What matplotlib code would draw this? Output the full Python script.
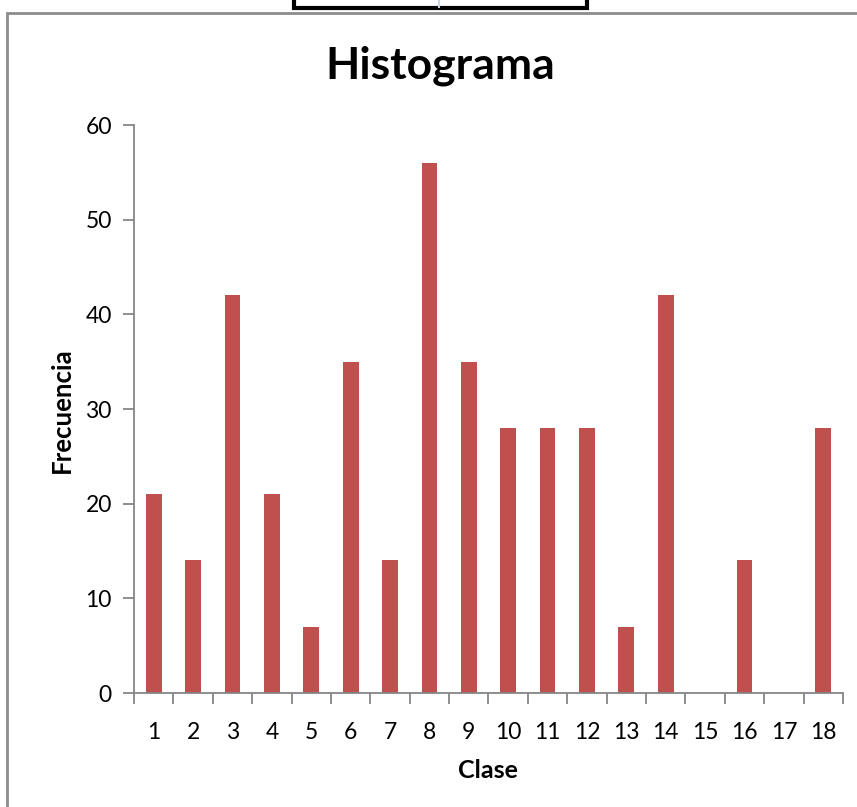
import numpy as np
import matplotlib.pyplot as plt
from matplotlib.patches import Rectangle
from matplotlib.lines import Line2D

#%% Data
clases = ['1', '2', '3', '4', '5', '6', '7', '8', '9', '10',
          '11', '12', '13', '14', '15', '16', '17', '18']
frecuencia = [21, 14, 42, 21, 7, 35, 14, 56, 35, 28,
              28, 28, 7, 42, 0, 14, 0, 28]
yticks = [0, 10, 20, 30, 40, 50, 60]

W, H = 857, 807
plt.rcParams['font.family'] = ['Lato', 'DejaVu Sans']

fig = plt.figure(figsize=(W/100, H/100), dpi=100)

# chart area border (Excel look) and the table cell cut at top
fig.add_artist(Rectangle((7/W, -0.1), 1.0, 1 - 13/H + 0.1, transform=fig.transFigure,
                         fill=False, edgecolor='#8c8c8c', lw=2))
fig.add_artist(Rectangle((294/W, 1 - 8/H), (587-294)/W, 0.05, transform=fig.transFigure,
                         facecolor='white', edgecolor='black', lw=3))
fig.add_artist(Line2D([439/W, 439/W], [1 - 7/H, 1.0], transform=fig.transFigure,
                      color='#c8d4e8', lw=1.5))

ax = fig.add_axes([134/W, 1 - 693/H, (843-134)/W, (693-125)/H])
x = np.arange(1, len(clases) + 1)
ax.bar(x, frecuencia, width=0.4, color='#C0504D', zorder=2)

ax.set_xlim(0.5, len(clases) + 0.5)
ax.set_ylim(0, 60)
ax.set_yticks(yticks)
ax.set_xticks(x)
ax.set_xticklabels(clases)
ax.set_xticks(np.arange(0.5, len(clases) + 1), minor=True)
ax.tick_params(axis='x', which='major', length=0, pad=21, labelsize=16.5)
ax.tick_params(axis='x', which='minor', length=8, color='#868686', width=1.3)
ax.tick_params(axis='y', length=8, color='#868686', width=1.3, labelsize=16.5, pad=8)

for s in ['top', 'right']:
    ax.spines[s].set_visible(False)
for s in ['left', 'bottom']:
    ax.spines[s].set_color('#868686')
    ax.spines[s].set_linewidth(1.3)

fig.text(440/W, 1 - 66/H, 'Histograma', ha='center', va='center',
         fontsize=32, fontweight='bold')
fig.text(488/W, 1 - 771/H, 'Clase', ha='center', va='center',
         fontsize=18, fontweight='bold')
fig.text(62/W, 1 - 410/H, 'Frecuencia', ha='center', va='center',
         fontsize=18.5, fontweight='bold', rotation=90)

plt.savefig('out.png', dpi=100)
